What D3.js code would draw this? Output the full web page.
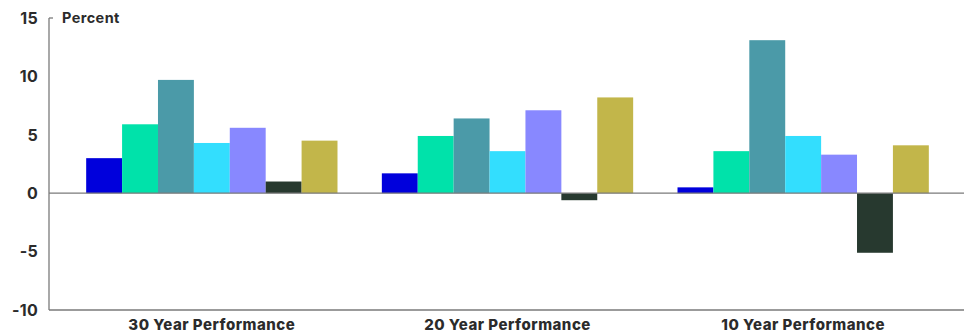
<!DOCTYPE html>
<html>
<head>
<meta charset="utf-8">
<script src="https://cdn.jsdelivr.net/npm/d3@7"></script>
<style>
  html, body { margin: 0; padding: 0; background: #fff; }
  svg { display: block; }
  text { font-family: Inter, "Liberation Sans", sans-serif; font-weight: 700; fill: #2b2b2b; }
</style>
</head>
<body>
<svg id="chart" width="970" height="333"></svg>
<script>
// Time horizons along the x axis
const periods = ["30 Year Performance", "20 Year Performance", "10 Year Performance"];
// Seven asset series per horizon (annualized return, percent)
const seriesNames = ["s1", "s2", "s3", "s4", "s5", "s6", "s7"];
const seriesColors = ["#0000dc", "#00e2aa", "#4b9aa8", "#33defe", "#8888ff", "#27392f", "#c2b64a"];
const values30 = [3.0, 5.9, 9.7, 4.3, 5.6, 1.0, 4.5];
const values20 = [1.7, 4.9, 6.4, 3.6, 7.1, -0.6, 8.2];
const values10 = [0.5, 3.6, 13.1, 4.9, 3.3, -5.1, 4.1];
const yTicks = [-10, -5, 0, 5, 10, 15];

const rows = [values30, values20, values10].map((vals, i) => ({
  period: periods[i],
  bars: vals.map((v, j) => ({ key: seriesNames[j], value: v, color: seriesColors[j] }))
}));

const svg = d3.select("#chart");
const axisLeft = 49, axisRight = 964;

const y = d3.scaleLinear().domain([-10, 15]).range([310, 18]);
const x0 = d3.scaleBand().domain(periods).range([64, 951]).paddingInner(0.15).paddingOuter(0.075);
const x1 = d3.scaleBand().domain(seriesNames).range([0, x0.bandwidth()]).padding(0);

// Y tick labels
svg.append("g").selectAll("text").data(yTicks).join("text")
  .attr("x", 38).attr("y", d => y(d))
  .attr("dy", "0.36em").attr("text-anchor", "end")
  .style("font-size", "16px").style("letter-spacing", "0.3px")
  .text(d => d);

// Bars
const groups = svg.append("g").selectAll("g").data(rows).join("g")
  .attr("transform", d => `translate(${x0(d.period)},0)`);
groups.selectAll("rect").data(d => d.bars).join("rect")
  .attr("x", d => x1(d.key))
  .attr("width", x1.bandwidth())
  .attr("y", d => y(Math.max(0, d.value)))
  .attr("height", d => Math.abs(y(d.value) - y(0)))
  .attr("fill", d => d.color);

// Axis lines
const lineColor = "#7a7a7a";
svg.append("line").attr("x1", axisLeft).attr("x2", axisLeft).attr("y1", y(15)).attr("y2", y(-10))
  .attr("stroke", lineColor).attr("stroke-width", 1.3);
svg.append("line").attr("x1", axisLeft).attr("x2", axisLeft + 4).attr("y1", y(15)).attr("y2", y(15))
  .attr("stroke", lineColor).attr("stroke-width", 1.3);
svg.append("line").attr("x1", axisLeft).attr("x2", axisRight).attr("y1", y(0)).attr("y2", y(0))
  .attr("stroke", lineColor).attr("stroke-width", 1.3);
svg.append("line").attr("x1", axisLeft).attr("x2", axisRight).attr("y1", y(-10)).attr("y2", y(-10))
  .attr("stroke", lineColor).attr("stroke-width", 1.3);

// Unit label
svg.append("text").attr("x", 62).attr("y", y(15)).attr("dy", "0.36em")
  .style("font-size", "14.5px").style("letter-spacing", "0.4px").text("Percent");

// Category labels
svg.append("g").selectAll("text").data(periods).join("text")
  .attr("x", d => x0(d) + x0.bandwidth() / 2)
  .attr("y", 330).attr("text-anchor", "middle")
  .style("font-size", "15px").style("letter-spacing", "0.5px").style("font-weight", 800)
  .text(d => d);
</script>
</body>
</html>
